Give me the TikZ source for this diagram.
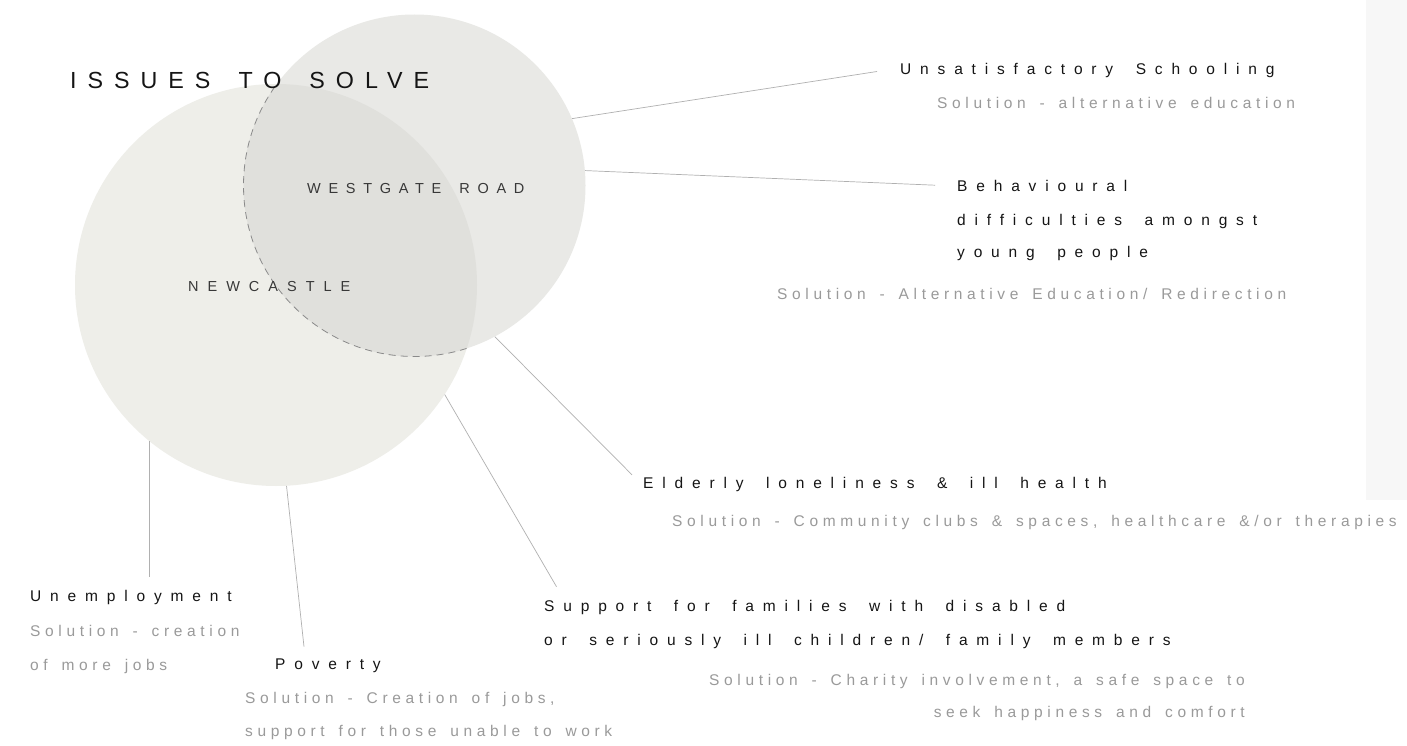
\documentclass[tikz,border=0pt]{standalone}
\usepackage{fontspec}
\setmainfont{Liberation Sans}[Ligatures={NoCommon}]
\usetikzlibrary{calc}
\definecolor{bigfill}{HTML}{EEEEE9}
\definecolor{smallfill}{HTML}{E9E9E6}
\definecolor{overfill}{HTML}{E0E0DC}
\definecolor{ink}{HTML}{151515}
\definecolor{soft}{HTML}{9A9A9A}
\definecolor{leader}{HTML}{B0B0B0}
\definecolor{dashc}{HTML}{8A8A8A}
\definecolor{panel}{HTML}{F7F7F7}
\newcommand\issuefont{\fontsize{15.5}{18}\selectfont\addfontfeatures{LetterSpace=57}\spaceskip 22.5pt\relax}
\newcommand\solnfont{\fontsize{15.5}{18}\selectfont\addfontfeatures{LetterSpace=30}\spaceskip 13.9pt\relax}
\newcommand\headfont{\fontsize{23.3}{26}\selectfont\addfontfeatures{LetterSpace=47}\spaceskip 28.1pt\relax}
\newcommand\wsfont{\fontsize{14.5}{17}\selectfont\addfontfeatures{LetterSpace=53}\spaceskip 18.1pt\relax}
\newcommand\ncfont{\fontsize{14.5}{17}\selectfont\addfontfeatures{LetterSpace=62}}
\begin{document}
\begin{tikzpicture}[x=1pt,y=-1pt,
  issue/.style={anchor=base west, inner sep=0pt, text=ink, font=\issuefont},
  soln/.style={anchor=base west, inner sep=0pt, text=soft, font=\solnfont},
  solnr/.style={soln, anchor=base east},
  heading/.style={anchor=base west, inner sep=0pt, text=ink, font=\headfont},
  place/.style={anchor=base west, inner sep=0pt, text=ink!85},
  disc/.style={circle, inner sep=0pt, draw=none},
  leaderline/.style={draw=leader, line width=0.7pt},
  overlapedge/.style={draw=dashc, line width=0.8pt, dash pattern=on 7pt off 5pt}]
\fill[white] (0,0) rectangle (1407,746);
\useasboundingbox (0,0) rectangle (1407,746);
\fill[panel] (1366,0) rectangle (1407,500);

% circles
\node[disc, minimum size=402pt, fill=bigfill] (nc) at (276,285) {};
\node[disc, minimum size=342pt, fill=smallfill] (ws) at (414.5,185.5) {};
\begin{scope}
  \clip (nc.center) circle (201pt);
  \fill[overfill] (ws.center) circle (171pt);
  \draw[overlapedge] (ws.center) circle (171pt);
\end{scope}

% labels
\node[heading] (title) at (70,88.3) {ISSUES TO SOLVE};
\node[place, font=\wsfont] (wsl) at (307,193.3) {WESTGATE ROAD};
\node[place, font=\ncfont] (ncl) at (188,291.7) {NEWCASTLE};

\node[issue] (uns) at (900,75) {Unsatisfactory Schooling};
\node[soln] (unsS) at (937,108.3) {Solution - alternative education};

\node[issue] (beh1) at (957,191.7) {Behavioural};
\node[issue] (beh2) at (957,225) {difficulties amongst};
\node[issue] (beh3) at (957,257.3) {young people};
\node[soln] (behS) at (777,299.3) {Solution - Alternative Education/ Redirection};

\node[issue] (eld) at (643,488.3) {Elderly loneliness \& ill health};
\node[soln] (eldS) at (672,526.7) {Solution - Community clubs \& spaces, healthcare \&/or therapies};

\node[issue] (sup1) at (544,611.7) {Support for families with disabled};
\node[issue] (sup2) at (544,645) {or seriously ill children/ family members};
\node[solnr] (supS1) at (1245,685) {Solution - Charity involvement, a safe space to};
\node[solnr] (supS2) at (1245,717.7) {seek happiness and comfort};

\node[issue] (une) at (30,601) {Unemployment};
\node[soln] (uneS1) at (30,636.7) {Solution - creation};
\node[soln] (uneS2) at (30,670) {of more jobs};

\node[issue] (pov) at (275,669.3) {Poverty};
\node[soln] (povS1) at (245,703.3) {Solution - Creation of jobs,};
\node[soln] (povS2) at (245,736.7) {support for those unable to work};

% connectors
\draw[leaderline] (ws.23.9) -- ($(uns.base west)+(-23,-3.5)$);
\draw[leaderline] (ws.5.3) -- ($(beh1.base west)+(-22,-6.5)$);
\draw[leaderline] (ws.-62) -- ($(eld.base west)+(-11,-13.5)$);
\draw[leaderline] (nc.-33.9) -- ($(sup1.base west)+(12.5,-25)$);
\draw[leaderline] (nc.-87.2) -- ($(pov.base west)+(29,-22.6)$);
\coordinate (uneTop) at ($(une.base west)+(118,-24)$);
\draw[leaderline] (nc.-129.6) -- (nc.-129.6 |- uneTop);
\end{tikzpicture}
\end{document}
